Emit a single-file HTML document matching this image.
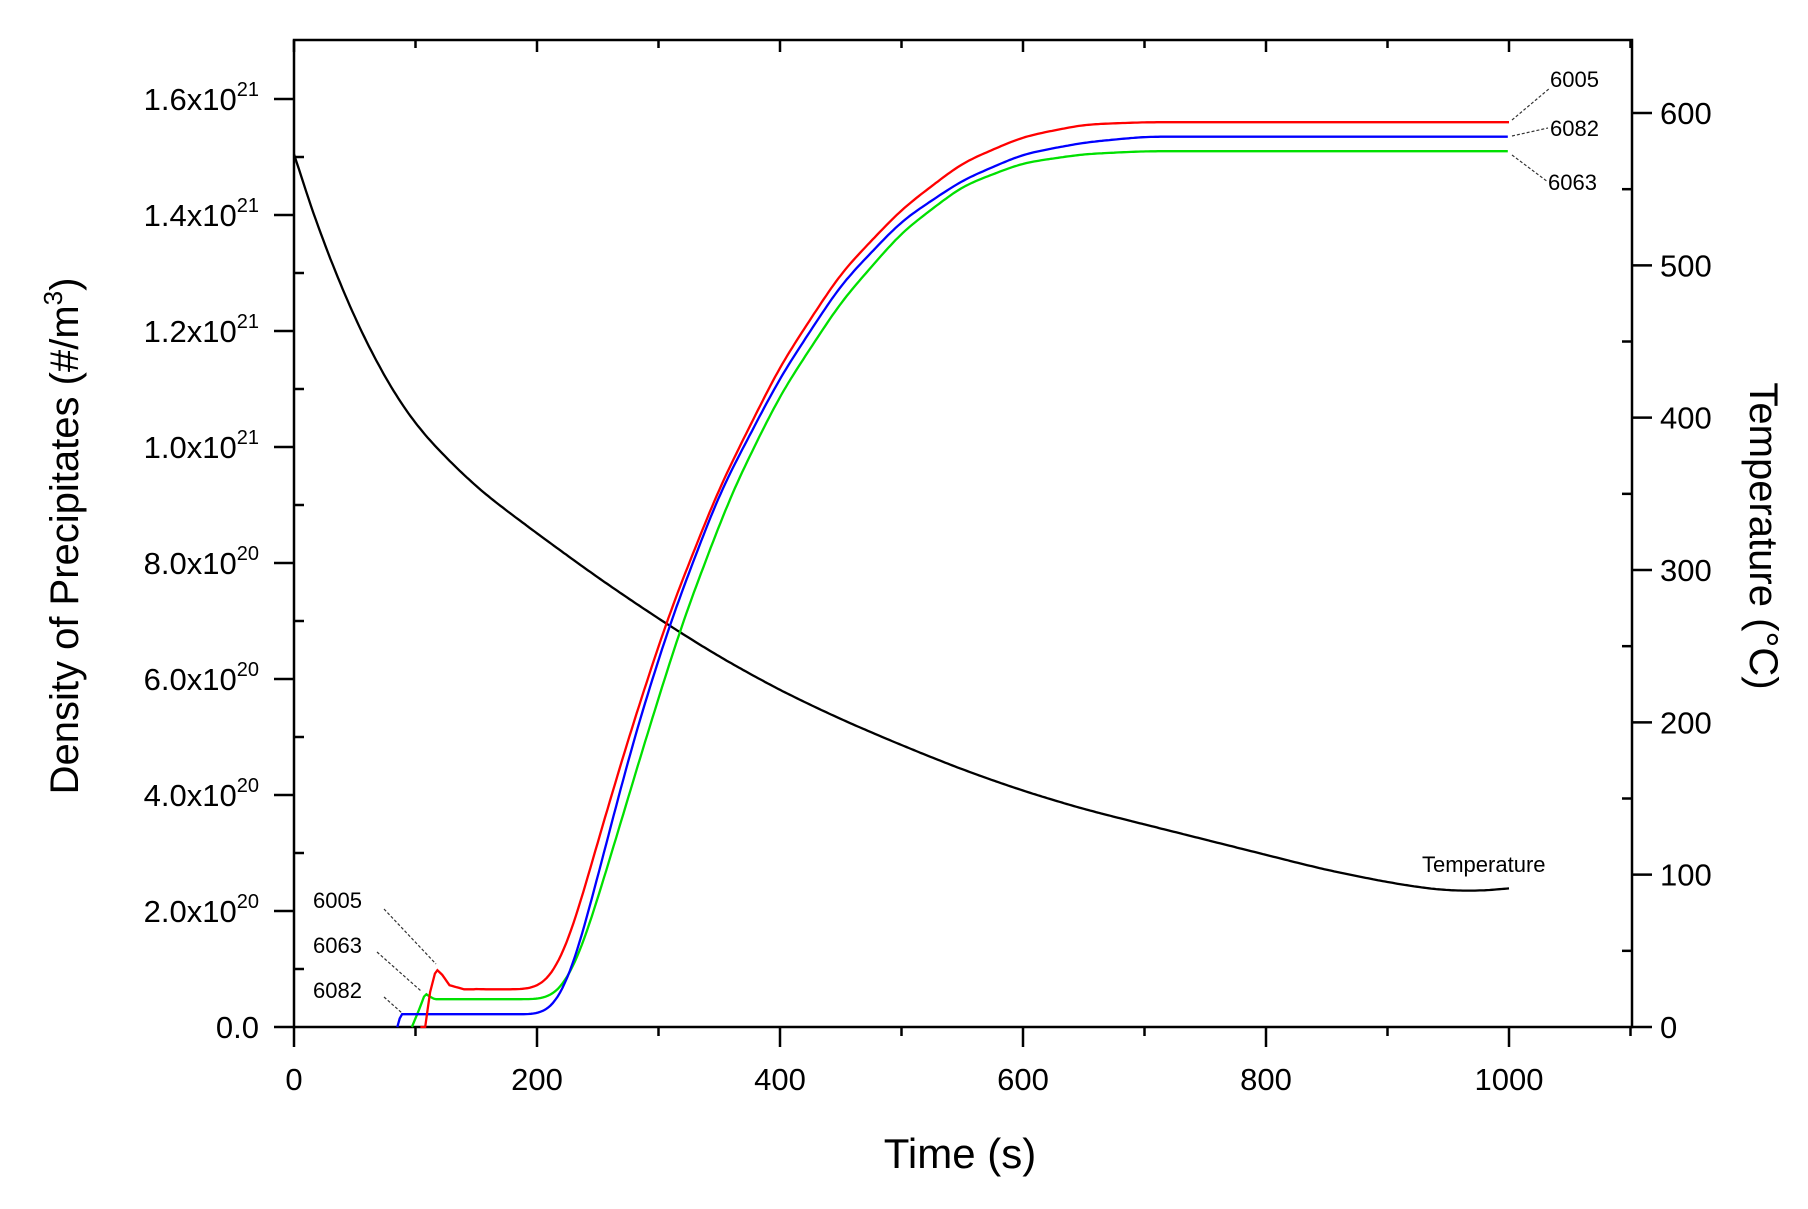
<!DOCTYPE html>
<html><head><meta charset="utf-8"><style>
html,body{margin:0;padding:0;background:#fff;}
svg text{font-family:"Liberation Sans",Arial,sans-serif;fill:#000;}
</style></head><body>
<svg id="s" width="1808" height="1204" xmlns="http://www.w3.org/2000/svg">
<rect width="1808" height="1204" fill="#fff"/>
<g id="axes" stroke="#000" stroke-width="2.5" fill="none"></g>
<g id="labels" font-size="31"></g>
<g id="curves" fill="none" stroke-width="2.3"></g>
<g font-size="22" fill="#000">
<text x="1550" y="87">6005</text>
<text x="1550" y="136">6082</text>
<text x="1548" y="190">6063</text>
<text x="1422" y="872">Temperature</text>
<text x="313" y="908">6005</text>
<text x="313" y="953">6063</text>
<text x="313" y="998">6082</text>
</g>
<g stroke="#333" stroke-width="1.2" stroke-dasharray="3,2" fill="none">
<line x1="1512" y1="120" x2="1550" y2="88"/>
<line x1="1512" y1="136" x2="1548" y2="128"/>
<line x1="1512" y1="155" x2="1548" y2="182"/>
<line x1="384" y1="909" x2="436" y2="964"/>
<line x1="377" y1="952" x2="421" y2="991"/>
<line x1="384" y1="997" x2="402" y2="1013"/>
</g>
<text x="960" y="1168" font-size="42" text-anchor="middle">Time (s)</text>
<text transform="translate(78,536) rotate(-90)" font-size="40" text-anchor="middle">Density of Precipitates (#/m<tspan dy="-16" font-size="26">3</tspan><tspan dy="16">)</tspan></text>
<text transform="translate(1750,536) rotate(90)" font-size="40" text-anchor="middle">Temperature (°C)</text>
</svg>
<script>
const L=294,R=1632,T=40,B=1027;
const X=t=>L+t*1.215;
const Yd=v=>B-v*(B-99)/1.6;
const Yt=c=>B-c*1.5233;
const ax=document.getElementById('axes'),lb=document.getElementById('labels'),cv=document.getElementById('curves');
let h='';
h+=`<rect x="${L}" y="${T}" width="${R-L}" height="${B-T}"/>`;
for(let t=0;t<=1100;t+=100){let x=X(t);
 if(t%200==0){h+=`<line x1="${x}" y1="${B}" x2="${x}" y2="${B+20}"/><line x1="${x}" y1="${T}" x2="${x}" y2="${T+12}"/>`;
  if(t<=1000)lb.innerHTML+=`<text x="${x}" y="1090" text-anchor="middle">${t}</text>`;}
 else {h+=`<line x1="${x}" y1="${B}" x2="${x}" y2="${B+9}"/><line x1="${x}" y1="${T}" x2="${x}" y2="${T+8}"/>`;}
}
const lab=['0.0','2.0x10','4.0x10','6.0x10','8.0x10','1.0x10','1.2x10','1.4x10','1.6x10'];
const ex=['','20','20','20','20','21','21','21','21'];
for(let i=0;i<=16;i++){let y=Yd(i*0.1);
 if(i%2==0){h+=`<line x1="${L-20}" y1="${y}" x2="${L}" y2="${y}"/>`;let k=i/2;
  lb.innerHTML+= k==0?`<text x="259" y="${y+11}" text-anchor="end">0.0</text>`:`<text x="259" y="${y+11}" text-anchor="end">${lab[k]}<tspan dy="-14" font-size="20">${ex[k]}</tspan></text>`;}
 else h+=`<line x1="${L}" y1="${y}" x2="${L+10}" y2="${y}"/>`;
}
for(let c=0;c<=600;c+=50){let y=Yt(c);
 if(c%100==0){h+=`<line x1="${R}" y1="${y}" x2="${R+20}" y2="${y}"/>`;lb.innerHTML+=`<text x="1660" y="${y+11}">${c}</text>`;}
 else h+=`<line x1="${R-10}" y1="${y}" x2="${R}" y2="${y}"/>`;
}
ax.innerHTML=h;
function interp(p,t){for(let i=0;i<p.length-1;i++){if(t<=p[i+1][0]){const a=p[i],b=p[i+1];return a[1]+(b[1]-a[1])*(t-a[0])/(b[0]-a[0]);}}return p[p.length-1][1];}
function proc(p,sig,tmin){const dt=2,t0=p[0][0],t1=p[p.length-1][0];const ts=[],vs=[];
 for(let t=t0;t<=t1+1e-9;t+=dt){ts.push(t);vs.push(interp(p,t));}
 const out=[];const n=ts.length;const k=Math.round(sig*2.5/dt);
 for(let i=0;i<n;i++){if(ts[i]<tmin){out.push([ts[i],vs[i]]);continue;}
  const kk=Math.min(k,i,n-1-i);let s=0,w=0;
  for(let j=-kk;j<=kk;j++){const ww=Math.exp(-0.5*(j*dt/sig)**2);s+=ww*vs[i+j];w+=ww;}
  out.push([ts[i],s/w]);}
 return out;}
function pl(pts,f,col){return `<polyline stroke="${col}" points="${pts.map(p=>X(p[0]).toFixed(1)+','+f(p[1]).toFixed(1)).join(' ')}"/>`;}
const temp=[[0,573],[25,512],[50,464],[75,425],[100,394],[150,354],[200,324],[250,295],[300,268],[350,243],[400,221],[450,202],[500,185],[550,169],[600,155],[650,143],[700,133],[750,123],[800,113],[850,103],[900,95],[940,90],[970,89],[1000,91]];
const red=[[104,0],[108,0],[112,0.06],[117,0.1],[122,0.09],[128,0.072],[140,0.065],[195,0.065],[205,0.07],[215,0.09],[230,0.17],[250,0.32],[280,0.53],[310,0.72],[350,0.93],[400,1.14],[450,1.3],[500,1.41],[550,1.49],[600,1.535],[650,1.556],[700,1.56],[1000,1.56]];
const green=[[97,0],[103,0.03],[108,0.058],[112,0.052],[116,0.048],[210,0.048],[220,0.06],[235,0.12],[260,0.29],[290,0.5],[320,0.7],[360,0.92],[400,1.09],[450,1.25],[500,1.37],[550,1.45],[600,1.49],[650,1.505],[700,1.51],[1000,1.51]];
const blue=[[85,0],[88,0.022],[205,0.022],[215,0.03],[230,0.1],[250,0.26],[280,0.5],[310,0.7],[350,0.92],[400,1.12],[450,1.28],[500,1.39],[550,1.46],[600,1.505],[650,1.525],[700,1.535],[1000,1.535]];
cv.innerHTML=pl(proc(temp,15,5),Yt,'#000')+pl(proc(green,10,150),Yd,'#00e000')+pl(proc(blue,10,150),Yd,'#0000ff')+pl(proc(red,10,150),Yd,'#ff0000');
</script>
</body></html>
